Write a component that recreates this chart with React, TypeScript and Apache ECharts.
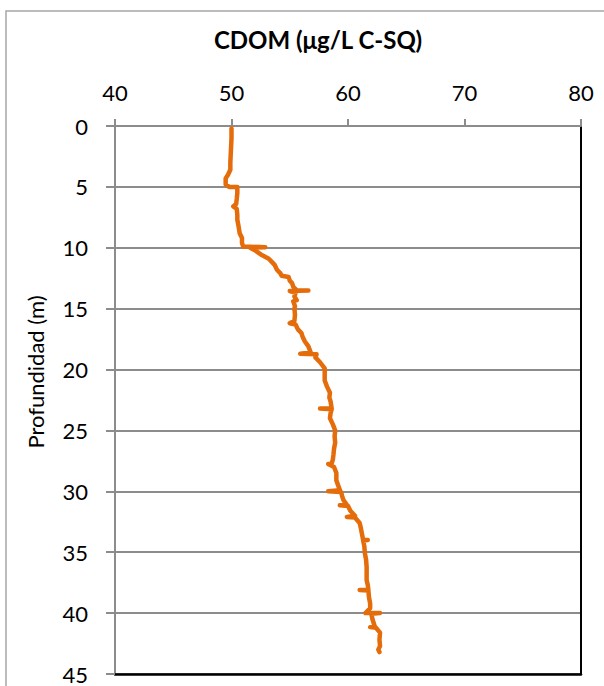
import React, { useEffect, useRef } from "react";
import * as echarts from "echarts";

const title = "CDOM (μg/L C-SQ)";
const yAxisName = "Profundidad (m)";
const xTicks = { min: 40, max: 80, interval: 10 };
const yTicks = { min: 0, max: 45, interval: 5 };

// Depth (m) of each reading, top to bottom
const depth: number[] = [
  0.2, 1.0, 2.0, 3.0, 3.6, 4.0, 4.3, 4.8, 5.0, 5.0,
  5.5, 6.0, 6.4, 6.6, 6.8, 7.3, 7.7, 8.2, 8.8, 9.2,
  9.6, 9.9, 9.95, 10.0, 10.2, 10.6, 10.9, 11.2, 11.4, 11.8,
  12.1, 12.3, 12.4, 12.7, 12.9, 13.2, 13.5, 13.5, 13.55, 13.7,
  14.0, 14.3, 14.4, 14.8, 15.0, 15.5, 16.0, 16.2, 16.3, 16.7,
  17.0, 17.3, 17.7, 18.1, 18.6, 18.7, 18.75, 19.0, 19.4, 19.9,
  20.4, 20.9, 21.4, 21.9, 22.3, 22.6, 23.2, 23.2, 23.25, 23.6,
  24.0, 24.5, 25.0, 25.5, 26.0, 26.5, 27.0, 27.4, 27.7, 27.75,
  28.0, 28.5, 29.1, 29.5, 29.9, 30.0, 30.05, 30.4, 30.7, 31.1,
  31.15, 31.2, 31.6, 32.0, 32.1, 32.15, 32.6, 33.0, 33.5, 34.0,
  34.0, 34.05, 34.5, 35.1, 35.6, 36.2, 36.8, 37.3, 37.7, 38.1,
  38.1, 38.15, 38.7, 39.2, 39.6, 40.0, 40.0, 40.05, 40.5, 41.1,
  41.15, 41.2, 41.6, 42.2, 42.7, 43.0, 43.2,
];

// CDOM (µg/L C-SQ) at each depth
const cdom: number[] = [
  50.0, 50.0, 49.95, 49.9, 49.9, 49.7, 49.5, 49.5, 49.8, 50.5,
  50.5, 50.45, 50.4, 50.15, 50.45, 50.5, 50.5, 50.6, 50.7, 50.9,
  50.9, 51.0, 52.9, 51.6, 52.0, 52.6, 53.2, 53.5, 53.7, 53.9,
  54.2, 54.3, 54.9, 55.0, 55.2, 55.3, 55.6, 56.6, 55.0, 55.5,
  55.4, 55.6, 55.3, 55.45, 55.4, 55.45, 55.4, 55.0, 55.5, 55.7,
  56.0, 56.1, 56.3, 56.6, 56.8, 55.9, 57.3, 57.2, 57.6, 58.0,
  58.0, 58.0, 58.2, 58.45, 58.4, 58.5, 58.6, 57.6, 58.6, 58.5,
  58.45, 58.7, 58.9, 58.85, 58.9, 58.8, 58.75, 58.7, 58.6, 58.3,
  58.8, 59.0, 59.0, 59.15, 59.3, 58.3, 59.4, 59.5, 59.6, 59.9,
  59.3, 60.0, 60.2, 60.6, 59.9, 60.6, 61.0, 61.1, 61.2, 61.3,
  61.7, 61.3, 61.4, 61.45, 61.55, 61.6, 61.6, 61.6, 61.7, 61.75,
  61.0, 61.75, 61.8, 61.9, 61.9, 61.5, 62.75, 62.0, 62.1, 62.3,
  61.9, 62.4, 62.75, 62.7, 62.75, 62.6, 62.7,
];

const FONT = "Lato, 'Open Sans', sans-serif";

export default function App() {
  const ref = useRef<HTMLDivElement>(null);

  useEffect(() => {
    if (!ref.current) return;
    const chart = echarts.init(ref.current, null, { renderer: "svg" });
    const data = depth.map((d, i) => [cdom[i], d]);
    chart.setOption({
      animation: false,
      backgroundColor: "#ffffff",
      textStyle: { fontFamily: FONT },
      title: {
        text: title,
        left: 313,
        top: 22,
        textAlign: "center",
        textStyle: { fontFamily: FONT, fontWeight: "bold", fontSize: 24, color: "#000" },
      },
      grid: { left: 115, top: 126, right: 23, bottom: 12, containLabel: false },
      xAxis: [
        {
          type: "value",
          position: "top",
          min: xTicks.min,
          max: xTicks.max,
          interval: xTicks.interval,
          axisLine: { show: true, onZero: false, lineStyle: { color: "#8c8c8c", width: 2 } },
          axisTick: { show: true, inside: false, length: 7, lineStyle: { color: "#8c8c8c", width: 2 } },
          axisLabel: { fontSize: 22, color: "#000", margin: 23, fontFamily: FONT },
          splitLine: { show: false },
        },
        {
          type: "value",
          position: "bottom",
          min: xTicks.min,
          max: xTicks.max,
          interval: xTicks.interval,
          axisLine: { show: true, onZero: false, lineStyle: { color: "#000", width: 2.5 } },
          axisTick: { show: false },
          axisLabel: { show: false },
          splitLine: { show: false },
        },
      ],
      yAxis: [
        {
          type: "value",
          inverse: true,
          min: yTicks.min,
          max: yTicks.max,
          interval: yTicks.interval,
          axisLine: { show: true, onZero: false, lineStyle: { color: "#8c8c8c", width: 2 } },
          axisTick: { show: true, length: 9, lineStyle: { color: "#8c8c8c", width: 2 } },
          axisLabel: { fontSize: 22, color: "#000", margin: 27, fontFamily: FONT },
          splitLine: { show: true, lineStyle: { color: "#8c8c8c", width: 2 } },
        },
        {
          type: "value",
          position: "right",
          inverse: true,
          min: yTicks.min,
          max: yTicks.max,
          interval: yTicks.interval,
          axisLine: { show: true, onZero: false, lineStyle: { color: "#000", width: 2 } },
          axisTick: { show: false },
          axisLabel: { show: false },
          splitLine: { show: false },
        },
      ],
      graphic: [
        {
          type: "rect",
          shape: { x: 6, y: 11, width: 700, height: 700 },
          style: { fill: "none", stroke: "#a6a6a6", lineWidth: 1.5 },
          z: -1,
          silent: true,
        },
        {
          type: "text",
          x: 35,
          y: 372,
          rotation: Math.PI / 2,
          style: {
            text: yAxisName,
            fontSize: 22,
            fontFamily: FONT,
            fill: "#000",
            align: "center",
            verticalAlign: "middle",
          },
        },
      ],
      series: [
        {
          type: "line",
          data,
          xAxisIndex: 0,
          yAxisIndex: 0,
          symbol: "none",
          lineStyle: { color: "#E46C0A", width: 4.5, cap: "round", join: "round" },
          z: 5,
        },
      ],
    });
    return () => chart.dispose();
  }, []);

  return (
    <div
      ref={ref}
      style={{ position: "absolute", left: 0, top: 0, width: 604, height: 686 }}
    />
  );
}
